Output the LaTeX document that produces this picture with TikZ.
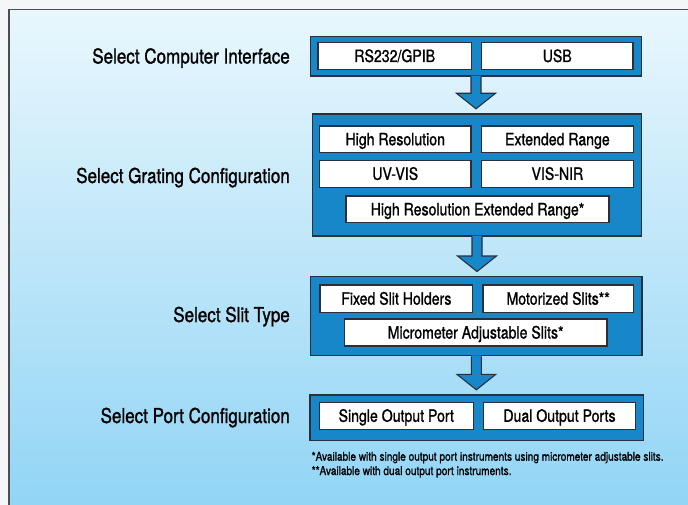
\documentclass[tikz,border=0pt]{standalone}
\usepackage{fontspec}
\setmainfont{TeX Gyre Heros}[FakeStretch=0.83,FakeBold=1.2]
\usetikzlibrary{calc}
\definecolor{bgtop}{HTML}{E9F7FD}
\definecolor{bgbot}{HTML}{90D4F5}
\definecolor{boxblue}{HTML}{1787C9}
\definecolor{edge}{HTML}{2B2F3A}
\definecolor{framegray}{HTML}{4A4D52}
\definecolor{outside}{HTML}{F4F6F8}
\tikzset{
  bluebox/.style={draw=edge, line width=1.4pt, fill=boxblue, inner sep=0pt},
  whitebox/.style={draw=edge, line width=1.1pt, fill=white, inner sep=0pt,
    font=\fontsize{17pt}{20pt}\selectfont, text height=12pt, text depth=0pt},
  steplabel/.style={anchor=base east, inner sep=0pt, font=\fontsize{20.5pt}{24pt}\selectfont},
  footnote/.style={anchor=base west, inner sep=0pt, font=\fontsize{12.15pt}{14pt}\selectfont},
  barrow/.style={fill=boxblue, draw=edge, line width=1.1pt, line join=miter}
}
\newcommand\blockarr[2]{%
  \fill[boxblue] let \p1=(#1.south), \p2=(#2.north) in
    (\x1-5pt,\y1+1pt) -- (\x1-5pt,\y2+20pt) -- (\x1-19.5pt,\y2+20pt) -- (\x1,\y2+4.5pt)
    -- (\x1+19.5pt,\y2+20pt) -- (\x1+5pt,\y2+20pt) -- (\x1+5pt,\y1+1pt) -- cycle;
  \draw[barrow, fill=none] let \p1=(#1.south), \p2=(#2.north) in
    (\x1-5pt,\y1) -- (\x1-5pt,\y2+20pt) -- (\x1-19.5pt,\y2+20pt) -- (\x1,\y2+4.5pt)
    -- (\x1+19.5pt,\y2+20pt) -- (\x1+5pt,\y2+20pt) -- (\x1+5pt,\y1);
}
\begin{document}
\begin{tikzpicture}[x=1pt,y=-1pt]
\useasboundingbox (0,0) rectangle (688,505);
\clip (0,0) rectangle (688,505);
\fill[outside] (0,0) rectangle (688,505);
\shade[top color=bgtop, bottom color=bgbot] (9,9.5) rectangle (700,515);
\draw[framegray, line width=1.6pt] (9,515) -- (9,9.5) -- (700,9.5);

% box 1
\node[bluebox, minimum width=331pt, minimum height=39.5pt] (b1) at (476,56.25) {};
\node[whitebox, minimum width=153.5pt, minimum height=27pt] (rs) at (394.75,56) {RS232/GPIB};
\node[whitebox, minimum width=151.5pt, minimum height=27pt] (usb) at (557.25,56) {USB};

% box 2
\node[bluebox, minimum width=329pt, minimum height=122pt] (b2) at (477,175) {};
\node[whitebox, minimum width=151.5pt, minimum height=26.5pt] (hr) at (395.25,139.25) {High Resolution};
\node[whitebox, minimum width=151.8pt, minimum height=26.5pt] (er) at (557.4,139.25) {Extended Range};
\node[whitebox, minimum width=151.5pt, minimum height=27pt] (uv) at (395.25,173.8) {UV-VIS};
\node[whitebox, minimum width=151.8pt, minimum height=27pt] (vn) at (557.4,173.8) {VIS-NIR};
\node[whitebox, minimum width=263pt, minimum height=26.7pt] (hrer) at (477.5,209.35) {High Resolution Extended Range*};

% box 3
\node[bluebox, minimum width=331.3pt, minimum height=79pt] (b3) at (476.35,316.2) {};
\node[whitebox, minimum width=152.7pt, minimum height=27.3pt] (fsh) at (396.35,298.65) {Fixed Slit Holders};
\node[whitebox, minimum width=150.3pt, minimum height=27.3pt] (ms) at (558.15,298.65) {Motorized Slits**};
\node[whitebox, minimum width=262.7pt, minimum height=27pt] (mas) at (475.65,332.5) {Micrometer Adjustable Slits*};

% box 4
\node[bluebox, minimum width=333.3pt, minimum height=45.7pt] (b4) at (476.65,417.85) {};
\node[whitebox, minimum width=154pt, minimum height=27pt] (sop) at (396.3,415.8) {Single Output Port};
\node[whitebox, minimum width=151.6pt, minimum height=27pt] (dop) at (559.5,415.8) {Dual Output Ports};

% arrows
\blockarr{b1}{b2}
\blockarr{b2}{b3}
\blockarr{b3}{b4}

% labels
\node[steplabel] (l1) at (290,63.5) {Select Computer Interface};
\node[steplabel] (l2) at (290,183) {Select Grating Configuration};
\node[steplabel] (l3) at (290,322) {Select Slit Type};
\node[steplabel] (l4) at (290,423) {Select Port Configuration};

% footnotes
\node[footnote] (fn1) at (311.5,460.7) {*Available with single output port instruments using micrometer adjustable slits.};
\node[footnote] (fn2) at (311.5,475) {**Available with dual output port instruments.};
\end{tikzpicture}
\end{document}
